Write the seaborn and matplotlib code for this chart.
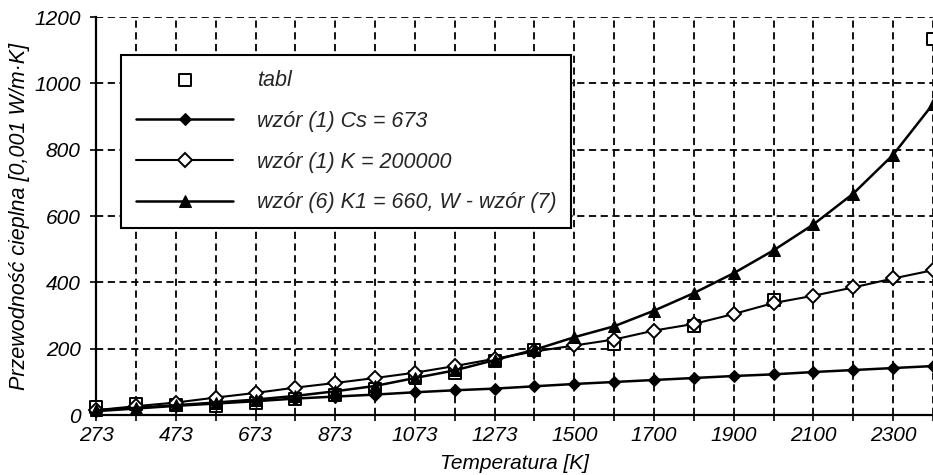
import numpy as np
import pandas as pd
import matplotlib
matplotlib.use("Agg")
import matplotlib.pyplot as plt
import seaborn as sns

# ---- data ----
temperatures = ["273", "373", "473", "573", "673", "773", "873", "973", "1073", "1173",
                "1273", "1400", "1500", "1600", "1700", "1800", "1900", "2000", "2100",
                "2200", "2300", "2400"]
x_tick_labels = ["273", "", "473", "", "673", "", "873", "", "1073", "", "1273", "",
                 "1500", "", "1700", "", "1900", "", "2100", "", "2300", ""]
y_ticks = [0, 200, 400, 600, 800, 1000, 1200]

tabl = [24, 33, 32, 28, 38, 48, 62, 80, 115, 128, 162, 197, np.nan, 215, np.nan, 268,
        np.nan, 348, np.nan, np.nan, np.nan, 1135]
wzor1_cs673 = [12, 20, 28, 35, 42, 50, 56, 62, 69, 75, 80, 87, 94, 100, 106, 112, 118,
               123, 130, 136, 142, 148]
wzor1_k200000 = [15, 27, 38, 53, 67, 83, 97, 112, 128, 148, 170, 192, 210, 228, 255,
                 275, 305, 338, 360, 385, 412, 437]
wzor6_k1_660 = [15, 22, 30, 38, 47, 58, 72, 88, 112, 135, 166, 197, 235, 268, 315, 368,
                428, 497, 575, 668, 785, 938]

labels = ["tabl", "wzór (1) Cs = 673", "wzór (1) K = 200000",
          "wzór (6) K1 = 660, W - wzór (7)"]

sns.set_style("white")
plt.rcParams["font.family"] = ["Liberation Sans", "DejaVu Sans"]
plt.rcParams["font.style"] = "italic"

pos = np.arange(len(temperatures))
df = pd.DataFrame({
    "pos": pos,
    "tabl": tabl,
    "cs": wzor1_cs673,
    "k": wzor1_k200000,
    "k1": wzor6_k1_660,
})

fig = plt.figure(figsize=(9.33, 4.75), dpi=100)
ax = fig.add_axes([0.103, 0.126, 0.897, 0.838])

sns.scatterplot(data=df, x="pos", y="tabl", marker="s", s=80, facecolor="white",
                edgecolor="black", linewidth=1.4, ax=ax, zorder=3, clip_on=False,
                label=labels[0])
sns.lineplot(data=df, x="pos", y="cs", color="black", linewidth=1.8, marker="D",
             markersize=6.5, markerfacecolor="black", markeredgecolor="black",
             ax=ax, zorder=4, clip_on=False, label=labels[1])
sns.lineplot(data=df, x="pos", y="k", color="black", linewidth=1.5, marker="D",
             markersize=7, markerfacecolor="white", markeredgecolor="black",
             markeredgewidth=1.4, ax=ax, zorder=5, clip_on=False, label=labels[2])
sns.lineplot(data=df, x="pos", y="k1", color="black", linewidth=1.8, marker="^",
             markersize=8, markerfacecolor="black", markeredgecolor="black",
             ax=ax, zorder=6, clip_on=False, label=labels[3])

ax.set_xlim(0, len(temperatures) - 1)
ax.set_ylim(0, 1200)
ax.set_xticks(pos)
ax.set_xticklabels(x_tick_labels)
ax.set_yticks(y_ticks)
ax.tick_params(axis="both", direction="out", length=4, width=1.2, color="black",
               labelsize=15, labelcolor="black", bottom=True, left=True)
ax.tick_params(axis="x", pad=4)
ax.tick_params(axis="y", pad=7)

ax.grid(True, color="black", linestyle=(0, (4, 2.5)), linewidth=1.3)
ax.set_axisbelow(True)
for side in ["top", "right"]:
    ax.spines[side].set_visible(False)
for side in ["left", "bottom"]:
    ax.spines[side].set_color("black")
    ax.spines[side].set_linewidth(1.6)

ax.set_xlabel("Temperatura [K]", fontsize=15, labelpad=6, color="black")
ax.set_ylabel("Przewodność cieplna [0,001 W/m·K]", fontsize=15.5, labelpad=3,
              color="black")

leg = ax.legend(loc="upper left", bbox_to_anchor=(0.030, 0.905), borderaxespad=0,
                fontsize=15.5, frameon=True, fancybox=False, framealpha=1,
                edgecolor="black", handlelength=4.5, handletextpad=1.1,
                borderpad=0.7, labelspacing=0.92)
leg.get_frame().set_linewidth(1.5)
leg.set_zorder(10)

fig.savefig("out.png", dpi=100)
